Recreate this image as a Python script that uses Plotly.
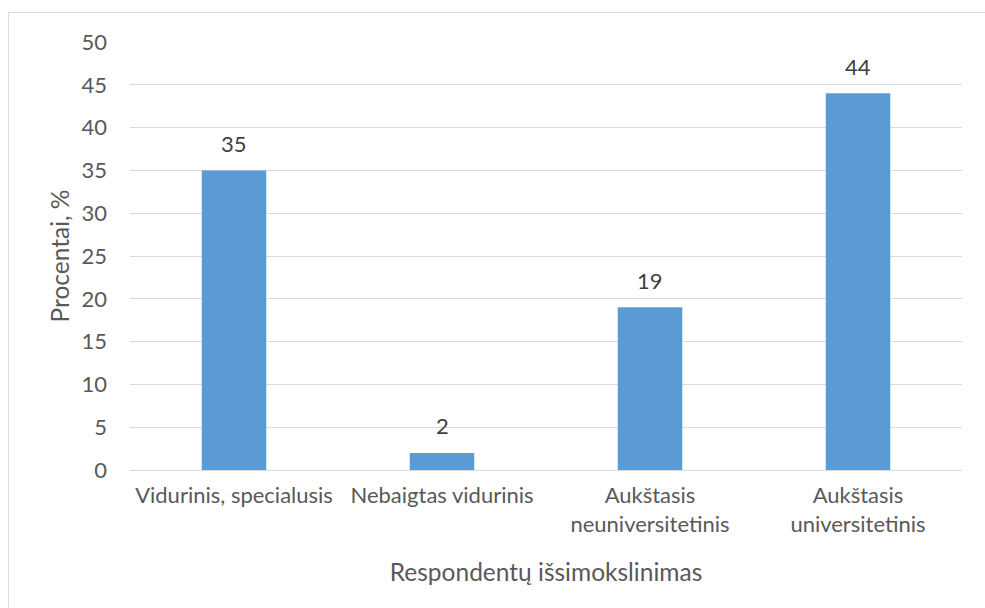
import plotly.graph_objects as go

categories = ["Vidurinis, specialusis", "Nebaigtas vidurinis", "Aukštasis<br>neuniversitetinis", "Aukštasis<br>universitetinis"]
values = [35, 2, 19, 44]
labels = ["35", "2", "19", "44"]
y_title = "Procentai, %"
x_title = "Respondentų išsimokslinimas"

FONT = "Lato"
TXT = "#595959"
GRID = "#D9D9D9"

fig = go.Figure()
fig.add_trace(go.Bar(
    x=categories, y=values, marker=dict(color="#5B9BD5", line=dict(width=0)),
    width=0.31,
))

for c, v, t in zip(categories, values, labels):
    fig.add_annotation(x=c, y=v, text=t, showarrow=False, yanchor="middle",
                       yshift=27, font=dict(family=FONT, size=22, color="#404040"))

L, R, T, B = 130, 962.5, 42, 470
W, H = 985, 608
def px2x(px):
    return (px - L) / (R - L)
def py2y(py):
    return (B - py) / (B - T)

fig.add_shape(type="rect", xref="paper", yref="paper",
              x0=px2x(8.5), x1=px2x(995), y0=py2y(12.5), y1=py2y(620),
              line=dict(color=GRID, width=1), fillcolor="rgba(0,0,0,0)", layer="below")

fig.update_layout(
    width=W, height=H,
    margin=dict(l=L, r=W - R, t=T, b=H - B),
    paper_bgcolor="white", plot_bgcolor="white",
    font=dict(family=FONT, color=TXT, size=22),
    showlegend=False,
)
fig.update_xaxes(
    showline=True, linecolor=GRID, linewidth=1, ticks="", showgrid=False,
    tickfont=dict(family=FONT, size=22, color=TXT), ticklabelstandoff=6,
    title=dict(text=x_title, font=dict(family=FONT, size=24.5, color=TXT), standoff=27),
)
fig.update_yaxes(
    range=[0, 50], dtick=5, showgrid=True, gridcolor=GRID, gridwidth=1,
    zeroline=False, showline=False, ticks="", ticklabelstandoff=22,
    tickfont=dict(family=FONT, size=22, color=TXT),
    title=dict(text=y_title, font=dict(family=FONT, size=24.5, color=TXT), standoff=4),
)

fig.write_html("out.html")
